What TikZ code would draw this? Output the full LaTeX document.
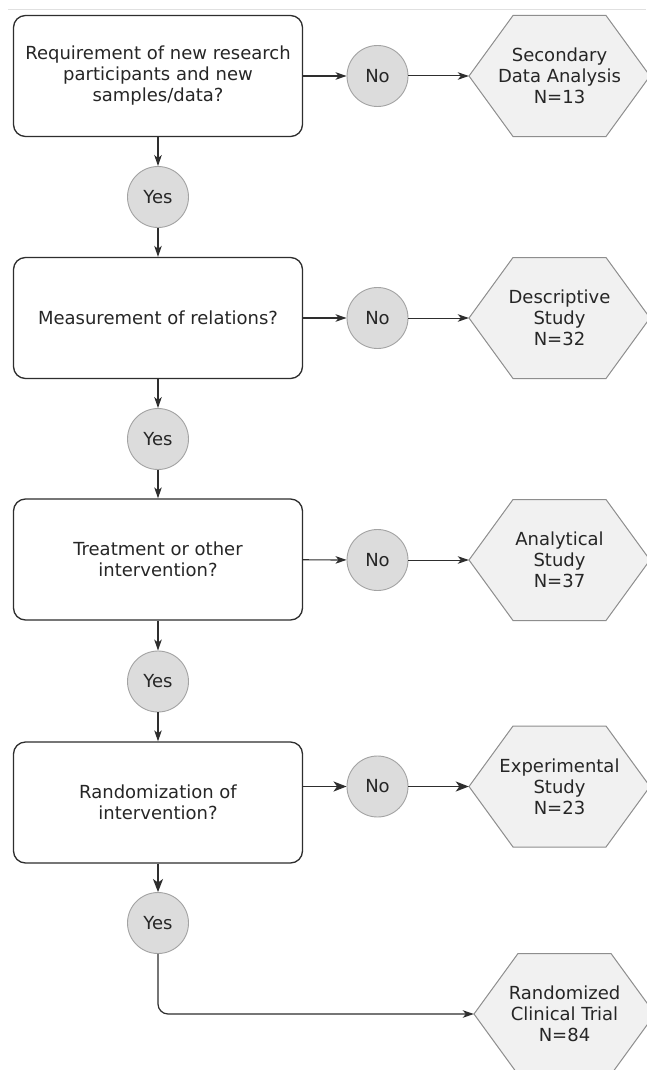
\documentclass[tikz,border=0pt]{standalone}
\usepackage{fontspec}
\setmainfont{DejaVu Sans}
\usetikzlibrary{arrows.meta}

\definecolor{boxline}{HTML}{2E2E2E}
\definecolor{circfill}{HTML}{DCDCDC}
\definecolor{circline}{HTML}{A3A3A3}
\definecolor{hexfill}{HTML}{F1F1F1}
\definecolor{hexline}{HTML}{8E8E8E}
\definecolor{txt}{HTML}{262626}

\begin{document}
\begin{tikzpicture}[x=1pt,y=-1pt,
  question/.style={draw=boxline,line width=1.3pt,fill=white,rounded corners=12pt,
    minimum width=289pt,minimum height=121pt,align=center,text=txt,
    font=\fontsize{18}{21}\selectfont},
  answer/.style={circle,draw=circline,line width=0.9pt,fill=circfill,
    minimum size=61pt,inner sep=0pt,text=txt,font=\fontsize{18}{21}\selectfont},
  outcome/.style={minimum width=181pt,minimum height=121pt,inner sep=0pt,
    align=center,text=txt,font=\fontsize{18}{21}\selectfont},
  flow/.style={draw=boxline,line width=1.2pt,-{Stealth[length=11pt,width=7.5pt,inset=3pt]}},
  heavyflow/.style={draw=boxline,line width=1.7pt,-{Stealth[length=13pt,width=10pt,inset=3.5pt]}}
]

\useasboundingbox (0,0) rectangle (646,1070);
\fill[white] (0,0) rectangle (646,1070);
\draw[black!12,line width=1pt] (8,9.6) -- (646,9.6);

% hexagons behind the outcome texts
\foreach \x/\y in {469/76,469/318,469/560,469/786.5,474/1014} {
  \filldraw[draw=hexline,fill=hexfill,line width=1pt]
    (\x,\y) -- ++(44,-60.5) -- ++(93,0) -- ++(44,60.5) -- ++(-44,60.5) -- ++(-93,0) -- cycle;
}

% questions
\node[question] (q1) at (158,76)    {Requirement of new research\\participants and new\\samples/data?};
\node[question] (q2) at (158,318)   {Measurement of relations?};
\node[question] (q3) at (158,559.5) {Treatment or other\\intervention?};
\node[question] (q4) at (158,802.5) {Randomization of\\intervention?};

% answers
\node[answer] (yes1) at (158,197)    {Yes};
\node[answer] (yes2) at (158,439)    {Yes};
\node[answer] (yes3) at (158,681.5)  {Yes};
\node[answer] (yes4) at (158,923)    {Yes};
\node[answer] (no1)  at (377.5,76)   {No};
\node[answer] (no2)  at (377.5,318)  {No};
\node[answer] (no3)  at (377.5,560)  {No};
\node[answer] (no4)  at (377.5,786.5) {No};

% outcomes
\node[outcome] (out1) at (559.5,76)    {Secondary\\Data Analysis\\N=13};
\node[outcome] (out2) at (559.5,318)   {Descriptive\\Study\\N=32};
\node[outcome] (out3) at (559.5,560)   {Analytical\\Study\\N=37};
\node[outcome] (out4) at (559.5,786.5) {Experimental\\Study\\N=23};
\node[outcome] (out5) at (564.5,1014)  {Randomized\\Clinical Trial\\N=84};

% connectors
\foreach \i/\j in {1/2,2/3,3/4} {
  \draw[flow] (q\i) -- (yes\i);
  \draw[flow] (yes\i) -- (q\j);
}
\draw[heavyflow] (q4) -- (yes4);

\foreach \i in {1,2,3} {
  \draw[flow] (q\i) -- (no\i);
  \draw[flow,line width=1pt] (no\i) -- (out\i.west);
}
\draw[heavyflow] (no4 -| q4.east) -- (no4);
\draw[heavyflow] (no4) -- (out4.west);

\draw[flow,rounded corners=10pt] (yes4) |- (out5.west);

\end{tikzpicture}
\end{document}
